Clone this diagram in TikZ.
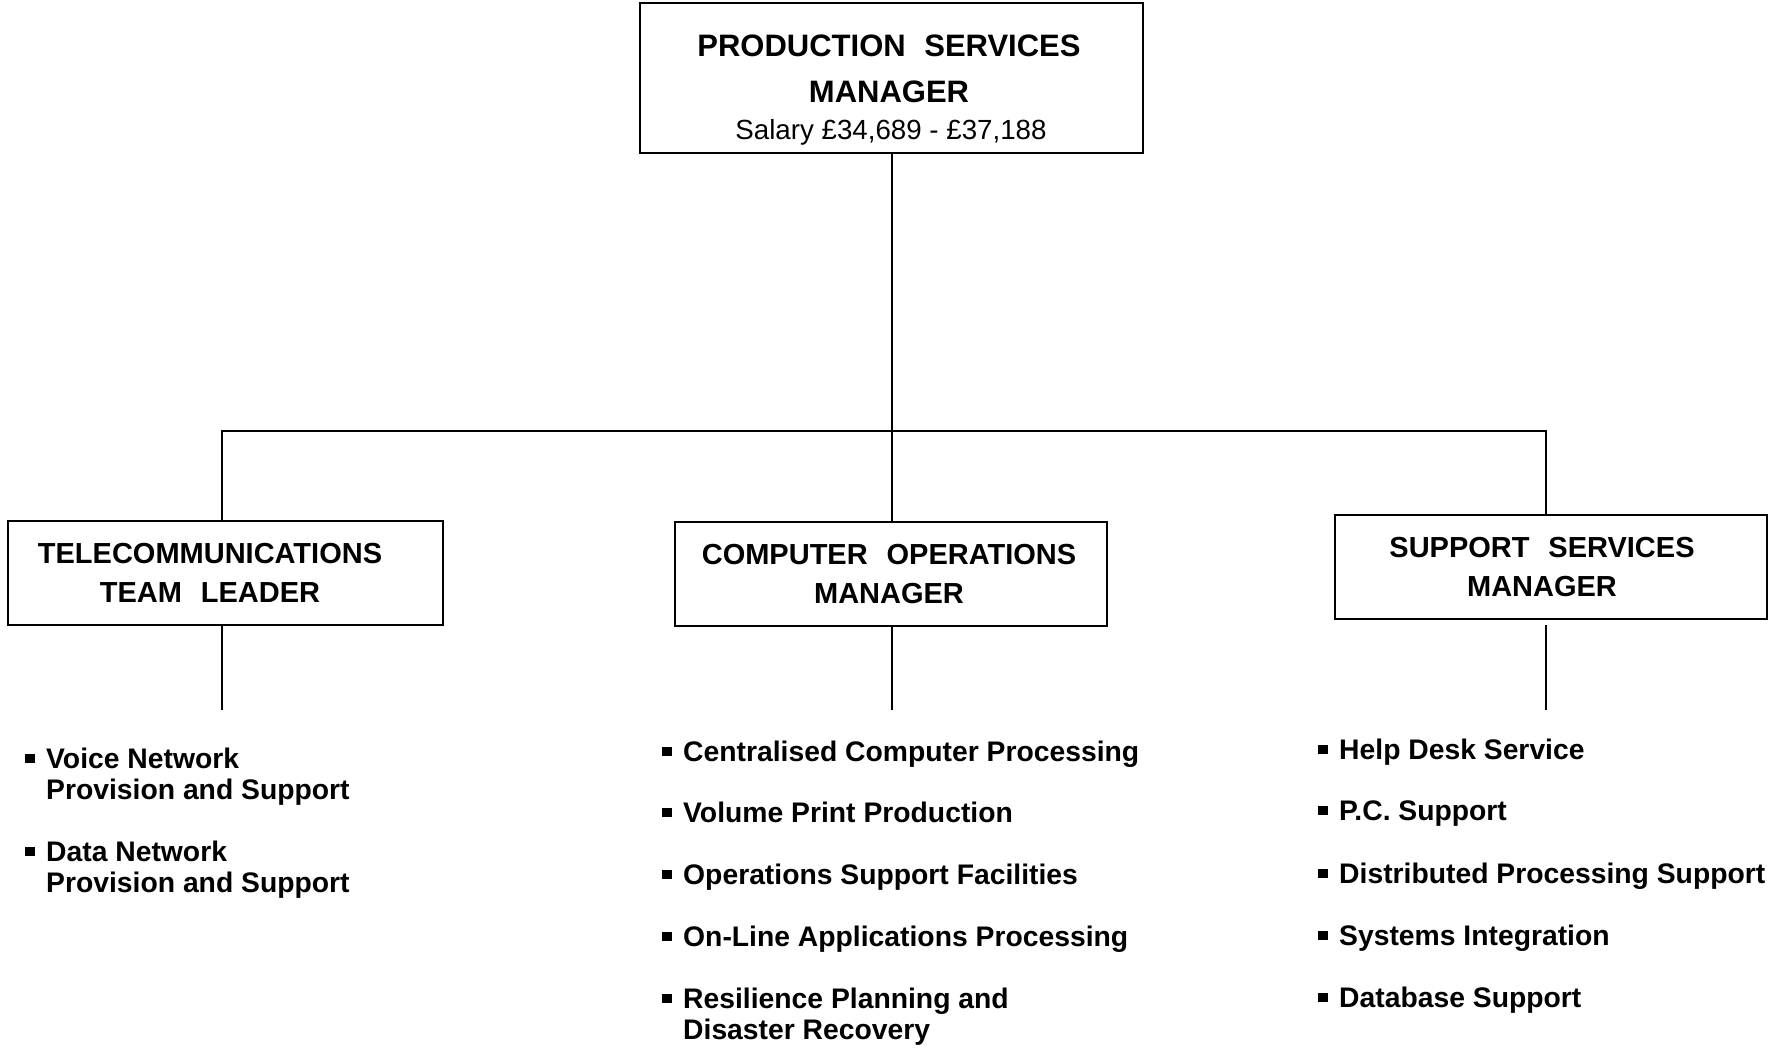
\documentclass[tikz,border=0pt]{standalone}
\usepackage{fontspec}
\setmainfont{Liberation Sans}
\newcommand\mybul{\rule[5.5pt]{10pt}{9pt}\hspace{11pt}}
\begin{document}
\begin{tikzpicture}[x=1pt,y=-1pt,
  box/.style={draw,line width=2.4pt,inner sep=0pt,rectangle},
  conn/.style={line width=2.4pt},
  ttl/.style={inner sep=0pt,anchor=base,font=\bfseries\fontsize{29}{39}\selectfont},
  bigttl/.style={inner sep=0pt,anchor=base,font=\bfseries\fontsize{31}{46}\selectfont},
  sal/.style={inner sep=0pt,anchor=base,font=\fontsize{27.7}{31}\selectfont},
  item/.style={inner sep=0pt,anchor=base west,font=\bfseries\fontsize{28.3}{31}\selectfont}]
\useasboundingbox (0,0) rectangle (1772,1049);

% boxes
\node[box,minimum width=503pt,minimum height=150pt] (top) at (891.5,78) {};
\node[box,minimum width=435pt,minimum height=104pt] (tele) at (225.5,573) {};
\node[box,minimum width=432pt,minimum height=104pt] (comp) at (891,574) {};
\node[box,minimum width=432pt,minimum height=104pt] (supp) at (1551,567) {};

% box texts
\node[bigttl] (toptitle) at (889,57) {\parbox[t]{480pt}{\centering PRODUCTION\hspace{0.6em}SERVICES\\MANAGER}};
\node[sal] (salary) at (891,139) {Salary £34,689 - £37,188};
\node[ttl] (teletitle) at (210,563) {\parbox[t]{420pt}{\centering TELECOMMUNICATIONS\\TEAM\hspace{0.65em}LEADER}};
\node[ttl] (comptitle) at (889,564) {\parbox[t]{420pt}{\centering COMPUTER\hspace{0.65em}OPERATIONS\\MANAGER}};
\node[ttl] (supptitle) at (1542,557) {\parbox[t]{420pt}{\centering SUPPORT\hspace{0.65em}SERVICES\\MANAGER}};

% connectors
\coordinate (bus) at (892,431);
\coordinate (tx) at (222,431);
\coordinate (sx) at (1546,431);
\coordinate (tl) at (222,710);
\coordinate (cl) at (892,710);
\coordinate (sl) at (1546,710);
\draw[conn] (top.south -| bus) -- (comp.north -| bus);
\draw[conn] (tele.north -| tx) -- (tx) -- (sx) -- (supp.north -| sx);
\draw[conn] (tele.south -| tl) -- (tl);
\draw[conn] (comp.south -| cl) -- (cl);
\draw[conn,shorten <=5pt] (supp.south -| sl) -- (sl);

% left list
\node[item] (t1) at (25,768) {\mybul\parbox[t]{400pt}{\raggedright Voice Network\\Provision and Support}};
\node[item] (t2) at (25,861) {\mybul\parbox[t]{400pt}{\raggedright Data Network\\Provision and Support}};

% middle list
\node[item] (c1) at (662,761) {\mybul Centralised Computer Processing};
\node[item] (c2) at (662,822) {\mybul Volume Print Production};
\node[item] (c3) at (662,884) {\mybul Operations Support Facilities};
\node[item] (c4) at (662,946) {\mybul On-Line Applications Processing};
\node[item] (c5) at (662,1008) {\mybul\parbox[t]{400pt}{\raggedright Resilience Planning and\\Disaster Recovery}};

% right list
\node[item] (s1) at (1318,759) {\mybul Help Desk Service};
\node[item] (s2) at (1318,820) {\mybul P.C. Support};
\node[item] (s3) at (1318,883) {\mybul Distributed Processing Support};
\node[item] (s4) at (1318,945) {\mybul Systems Integration};
\node[item] (s5) at (1318,1007) {\mybul Database Support};
\end{tikzpicture}
\end{document}
